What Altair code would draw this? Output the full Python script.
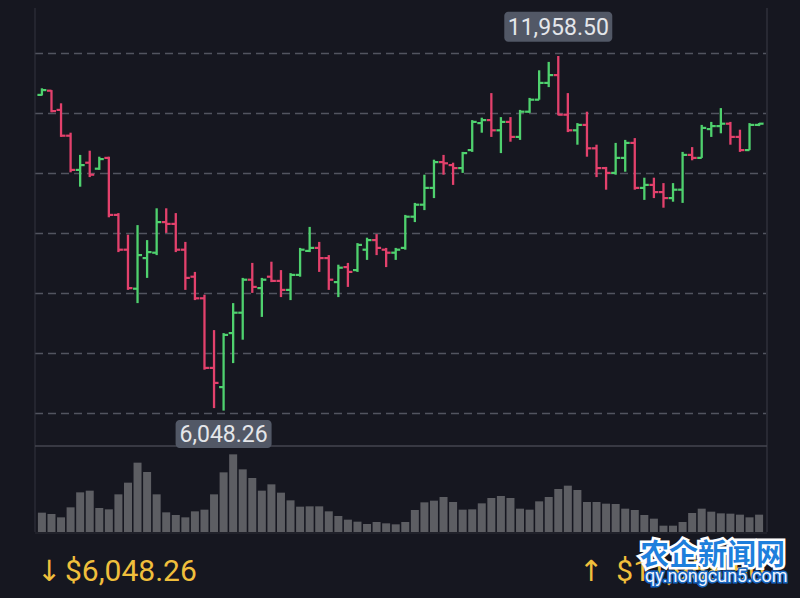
import altair as alt
import pandas as pd

# ---------------- data ----------------
opens = [11310, 11380, 11060, 10630, 10060, 10180, 10080, 10260, 9310, 8730,
         8080, 8590, 8680, 9190, 9160, 8730, 8280, 7920, 6760, 6440,
         7340, 7680, 8230, 8090, 8280, 8210, 8060, 8310, 8710, 8760,
         8590, 8190, 8440, 8390, 8730, 8890, 8730, 8680, 8760, 9280,
         9480, 9760, 10190, 10140, 10090, 10390, 10840, 10890, 10720, 10860,
         10610, 11030, 11230, 11510, 11640, 10980, 10720, 10810, 10420, 10090,
         10010, 10260, 10510, 9760, 9810, 9690, 9590, 9730, 10310, 10260,
         10740, 10790, 10830, 10610, 10390, 10810]
highs = [11420, 11390, 11170, 10680, 10310, 10380, 10280, 10280, 9340, 8980,
         9140, 8890, 9420, 9420, 9340, 8860, 8360, 7980, 7390, 7340,
         7840, 8260, 8510, 8260, 8530, 8390, 8340, 8760, 9110, 8860,
         8640, 8480, 8510, 8840, 8930, 8990, 8760, 8760, 9310, 9510,
         9980, 10230, 10310, 10180, 10360, 10890, 10930, 11340, 10940, 10940,
         11060, 11260, 11720, 11860, 11958.50, 11340, 10840, 11030, 10480, 10110,
         10510, 10560, 10590, 9930, 9930, 9840, 9840, 10360, 10440, 10810,
         10860, 11090, 10860, 10730, 10840, 10840]
lows = [11300, 11020, 10610, 10020, 9780, 9940, 10060, 9270, 8690, 8060,
        7840, 8260, 8640, 9010, 8690, 8060, 7890, 6730, 6090, 6048.26,
        6840, 7230, 8010, 7610, 8190, 7940, 7890, 8280, 8690, 8360,
        8060, 7940, 8110, 8360, 8560, 8640, 8440, 8560, 8730, 9190,
        9390, 9590, 9980, 9810, 10010, 10360, 10680, 10610, 10340, 10530,
        10560, 11010, 11230, 11440, 10970, 10690, 10480, 10280, 9940, 9730,
        9980, 10030, 9730, 9560, 9590, 9430, 9530, 9510, 10220, 10260,
        10610, 10670, 10480, 10360, 10390, 10790]
closes = [11390, 11040, 10630, 10060, 10140, 9980, 10240, 9310, 8730, 8090,
          8640, 8690, 9190, 9160, 8730, 8260, 7920, 6760, 6510, 7310,
          7680, 8230, 8110, 8230, 8210, 8060, 8310, 8730, 8760, 8590,
          8230, 8430, 8360, 8810, 8890, 8760, 8680, 8730, 9280, 9480,
          9760, 10190, 10170, 10090, 10340, 10860, 10890, 10720, 10860, 10610,
          11030, 11230, 11510, 11640, 10980, 10720, 10810, 10420, 10090, 10010,
          10260, 10510, 9760, 9810, 9690, 9590, 9730, 10310, 10260, 10760,
          10790, 10830, 10610, 10390, 10810, 10830]
volumes = [58, 54, 44, 74, 119, 124, 72, 68, 113, 148,
           208, 180, 113, 59, 51, 44, 62, 67, 113, 179,
           233, 188, 162, 124, 143, 118, 95, 76, 77, 77,
           62, 48, 37, 31, 24, 30, 26, 23, 30, 66,
           89, 94, 105, 90, 67, 68, 86, 102, 108, 102,
           70, 67, 92, 105, 129, 139, 126, 90, 90, 85,
           84, 70, 66, 51, 40, 19, 19, 30, 57, 70,
           61, 56, 55, 52, 44, 52]
grid_levels = [6000, 7000, 8000, 9000, 10000, 11000, 12000]
watermark_title = ["农企新闻网"]
watermark_url = ["qy.nongcun5.com"]

# ---------------- styles ----------------
BG = "#161720"
UP = "#4fd16e"
DOWN = "#e3416c"
GOLD = "#f0bf3c"
BOX = "#525866"

n = len(opens)
df = pd.DataFrame({"idx": list(range(n)), "open": opens, "high": highs,
                   "low": lows, "close": closes, "volume": volumes})
df["dir"] = ["up" if c >= o else "down" for o, c in zip(opens, closes)]

W, H = 784, 582
X0, X1 = 27, 758
xs = alt.Scale(domain=[-0.2, n - 1 + 0.2], range=[X0, X1], nice=False, zero=False)
ps = alt.Scale(domain=[6000, 12000], range=[405.5, 45.5], nice=False, zero=False)
vs = alt.Scale(domain=[0, 258], range=[524, 438], nice=False, zero=True)
cs = alt.Scale(domain=["up", "down"], range=[UP, DOWN])

X = alt.X("idx:Q", scale=xs, axis=None)
COLOR = alt.Color("dir:N", scale=cs, legend=None)

dummy = pd.DataFrame({"k": [0]})

grid = alt.Chart(pd.DataFrame({"level": grid_levels})).mark_rule(
    color="#52545f", strokeWidth=1.4, strokeDash=[8, 5]
).encode(y=alt.Y("level:Q", scale=ps, axis=None), x=alt.value(X0), x2=alt.value(X1))

left_border = alt.Chart(dummy).mark_rule(color="#33353f", strokeWidth=1).encode(
    x=alt.value(X0), y=alt.value(0), y2=alt.value(524))
right_border = alt.Chart(dummy).mark_rule(color="#3a3c47", strokeWidth=1).encode(
    x=alt.value(X1 + 1), y=alt.value(0), y2=alt.value(524))
separator = alt.Chart(dummy).mark_rule(color="#44464f", strokeWidth=1.3).encode(
    x=alt.value(X0), x2=alt.value(X1 + 1), y=alt.value(438))
baseline = alt.Chart(dummy).mark_rule(color="#2a2c35", strokeWidth=1).encode(
    x=alt.value(X0), x2=alt.value(X1 + 1), y=alt.value(525))

vol = alt.Chart(df).mark_bar(size=8, color="#5d5e63").encode(
    x=X, y=alt.Y("volume:Q", scale=vs, axis=None), y2=alt.value(524))

hl = alt.Chart(df).mark_rule(strokeWidth=2.3).encode(
    x=X, y=alt.Y("low:Q", scale=ps, axis=None), y2="high:Q", color=COLOR)
open_tick = alt.Chart(df).mark_rule(strokeWidth=2.2, xOffset=-4.5, x2Offset=0).encode(
    x=X, x2="idx:Q", y=alt.Y("open:Q", scale=ps, axis=None), color=COLOR)
close_tick = alt.Chart(df).mark_rule(strokeWidth=2.2, xOffset=0, x2Offset=4.5).encode(
    x=X, x2="idx:Q", y=alt.Y("close:Q", scale=ps, axis=None), color=COLOR)

imax = int(df["high"].idxmax())
imin = int(df["low"].idxmin())
top_lab = pd.DataFrame({"idx": [imax], "txt": [f"{highs[imax]:,.2f}"]})
bot_lab = pd.DataFrame({"idx": [imin], "txt": [f"{lows[imin]:,.2f}"]})

top_box = alt.Chart(top_lab).mark_rect(color=BOX, cornerRadius=4, xOffset=-54, x2Offset=54).encode(
    x=X, x2="idx:Q", y=alt.value(3.7), y2=alt.value(33.7))
top_txt = alt.Chart(top_lab).mark_text(font="Roboto", fontSize=23, color="#e4e6ea",
                                       align="center", baseline="middle").encode(
    x=X, y=alt.value(19.5), text="txt:N")
bot_box = alt.Chart(bot_lab).mark_rect(color=BOX, cornerRadius=4, xOffset=-48, x2Offset=48).encode(
    x=X, x2="idx:Q", y=alt.value(412), y2=alt.value(440))
bot_txt = alt.Chart(bot_lab).mark_text(font="Roboto", fontSize=23, color="#e4e6ea",
                                       align="center", baseline="middle").encode(
    x=X, y=alt.value(427), text="txt:N")

low_arrow = alt.Chart(pd.DataFrame({"t": ["↓"]})).mark_text(
    font="DejaVu Sans", fontSize=29, color=GOLD, align="left", baseline="alphabetic").encode(
    x=alt.value(29), y=alt.value(573), text="t:N")
low_gold = alt.Chart(pd.DataFrame({"t": [f"${lows[imin]:,.2f}"]})).mark_text(
    font="Roboto", fontSize=30, color=GOLD, align="left", baseline="alphabetic").encode(
    x=alt.value(57), y=alt.value(573), text="t:N")
high_arrow = alt.Chart(pd.DataFrame({"t": ["↑"]})).mark_text(
    font="DejaVu Sans", fontSize=29, color=GOLD, align="left", baseline="alphabetic").encode(
    x=alt.value(571), y=alt.value(573), text="t:N")
high_gold = alt.Chart(pd.DataFrame({"t": [f"${highs[imax]:,.2f}"]})).mark_text(
    font="Roboto", fontSize=30, color=GOLD, align="right", baseline="alphabetic").encode(
    x=alt.value(757), y=alt.value(573), text="t:N")

wm1_out = alt.Chart(pd.DataFrame({"t": watermark_title})).mark_text(
    font="Noto Sans CJK SC", fontSize=29, fontWeight="bold", color="#ffffff",
    stroke="#ffffff", strokeWidth=5, align="left", baseline="alphabetic").encode(
    x=alt.value(632), y=alt.value(557), text="t:N")
wm1 = alt.Chart(pd.DataFrame({"t": watermark_title})).mark_text(
    font="Noto Sans CJK SC", fontSize=29, fontWeight="bold", color="#1e7fdc",
    align="left", baseline="alphabetic").encode(
    x=alt.value(632), y=alt.value(557), text="t:N")
wm2_out = alt.Chart(pd.DataFrame({"t": watermark_url})).mark_text(
    font="Roboto", fontSize=18, color="#1565c0", stroke="#1565c0", strokeWidth=3,
    align="left", baseline="alphabetic").encode(
    x=alt.value(637), y=alt.value(574), text="t:N")
wm2 = alt.Chart(pd.DataFrame({"t": watermark_url})).mark_text(
    font="Roboto", fontSize=18, color="#eef4ff", align="left", baseline="alphabetic").encode(
    x=alt.value(637), y=alt.value(574), text="t:N")

chart = alt.layer(
    grid, left_border, right_border, separator, baseline, vol,
    hl, open_tick, close_tick,
    top_box, top_txt, bot_box, bot_txt,
    low_arrow, low_gold, high_arrow, high_gold, wm1_out, wm1, wm2_out, wm2
).resolve_scale(y="independent").properties(
    width=W, height=H, background=BG, padding=0,
    autosize=alt.AutoSizeParams(type="none")
).configure_view(stroke=None)

# make the page margin dark as well
_restore = None
try:
    import altair.utils.html as _ah
    _orig_tpl = _ah.TEMPLATES["standard"]

    class _BgTemplate:
        def render(self, **kw):
            html = _orig_tpl.render(**kw)
            return html.replace(
                "<head>", "<head>\n<style>html,body{background:%s;}</style>" % BG, 1)

    _ah.TEMPLATES["standard"] = _BgTemplate()
    _restore = (_ah, _orig_tpl)
except Exception:
    _restore = None

try:
    chart.save("out.html", embed_options={"renderer": "svg", "actions": False})
except Exception:
    if _restore is not None:
        _restore[0].TEMPLATES["standard"] = _restore[1]
    chart.save("out.html", embed_options={"renderer": "svg", "actions": False})
